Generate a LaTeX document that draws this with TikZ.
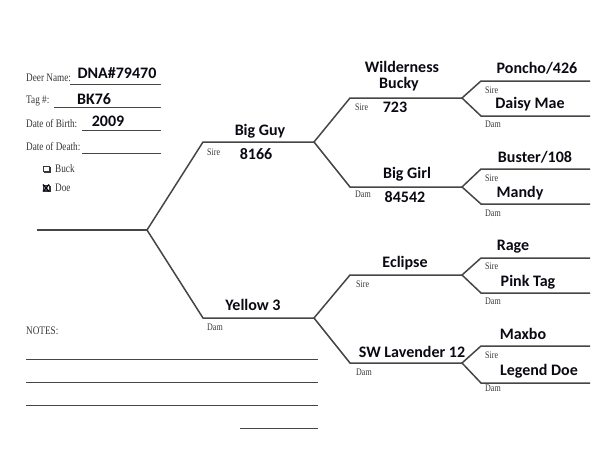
\documentclass[tikz,border=0pt]{standalone}
\usepackage{fontspec}
\newfontfamily\namefam{Carlito}
\newfontfamily\formfam[FakeStretch=0.8]{Liberation Serif}
\definecolor{linegray}{RGB}{70,70,70}
\definecolor{formgray}{RGB}{55,55,55}
\definecolor{inkblack}{RGB}{10,10,20}
\begin{document}
\begin{tikzpicture}[x=1pt,y=-1pt,
  ln/.style={draw=linegray, line width=1.5pt, line join=miter},
  ul/.style={draw=linegray, line width=0.9pt},
  cbox/.style={draw=formgray, line width=0.7pt, minimum size=5.5pt, inner sep=0pt,
    postaction={draw=formgray, line width=1.2pt, shorten <=0pt}},
  nm/.style={font=\namefam\bfseries\fontsize{16}{17}\selectfont, text=inkblack, inner sep=0pt},
  lab/.style={font=\formfam\fontsize{10}{11}\selectfont, text=formgray, inner sep=0pt, anchor=west},
  form/.style={font=\formfam\fontsize{11.5}{12}\selectfont, text=formgray, inner sep=0pt, anchor=west}]
\fill[white] (0,0) rectangle (600,453);
\useasboundingbox (0,0) rectangle (600,453);

% line coordinates
\coordinate (roots) at (37,230);   \coordinate (roote) at (147,230);
\coordinate (bgs) at (203,142);    \coordinate (bge) at (314,142);
\coordinate (yes) at (203,318);    \coordinate (yee) at (314,318);
\coordinate (wis) at (350,98);     \coordinate (wie) at (462,98);
\coordinate (gis) at (350,187);    \coordinate (gie) at (462,187);
\coordinate (ecs) at (350,275);    \coordinate (ece) at (462,275);
\coordinate (sws) at (350,363);    \coordinate (swe) at (462,363);
\coordinate (pos) at (481,81);     \coordinate (poe) at (590,81);
\coordinate (das) at (481,116);    \coordinate (dae) at (590,116);
\coordinate (bus) at (481,169);    \coordinate (bue) at (590,169);
\coordinate (mas) at (481,204);    \coordinate (mae) at (590,204);
\coordinate (ras) at (481,258);    \coordinate (rae) at (590,258);
\coordinate (pis) at (481,293);    \coordinate (pie) at (590,293);
\coordinate (mxs) at (481,346);    \coordinate (mxe) at (590,346);
\coordinate (les) at (481,383);    \coordinate (lee) at (590,383);

% tree
\draw[ln] (roots) -- (roote);
\draw[ln] (bge) -- (bgs) -- (roote) -- (yes) -- (yee);
\draw[ln] (wie) -- (wis) -- (bge) -- (gis) -- (gie);
\draw[ln] (ece) -- (ecs) -- (yee) -- (sws) -- (swe);
\draw[ln] (poe) -- (pos) -- (wie) -- (das) -- (dae);
\draw[ln] (bue) -- (bus) -- (gie) -- (mas) -- (mae);
\draw[ln] (rae) -- (ras) -- (ece) -- (pis) -- (pie);
\draw[ln] (mxe) -- (mxs) -- (swe) -- (les) -- (lee);

% names
\node[nm] (nbg) at (260,131) {Big Guy};
\node[nm] (nbgn) at (256,154) {8166};
\node[lab] (sbg) at (207,152) {Sire};
\node[nm] (nye) at (253,305) {Yellow 3};
\node[lab] (dye) at (207,327) {Dam};
\node[nm] (nwi1) at (402,67) {Wilderness};
\node[nm] (nwi2) at (399,84) {Bucky};
\node[nm] (nwin) at (395,107) {723};
\node[lab] (swi) at (355,107) {Sire};
\node[nm] (ngi) at (407,174) {Big Girl};
\node[nm] (ngin) at (405,197) {84542};
\node[lab] (dgi) at (355,194) {Dam};
\node[nm] (nec) at (405,263) {Eclipse};
\node[lab] (sec) at (356,284) {Sire};
\node[nm] (nsw) at (412,352) {SW Lavender 12};
\node[lab] (dsw) at (356,372) {Dam};
\node[nm] (npo) at (537,68) {Poncho/426};
\node[lab] (spo) at (485,90) {Sire};
\node[nm] (nda) at (530,104) {Daisy Mae};
\node[lab] (dda) at (485,124) {Dam};
\node[nm] (nbu) at (535,157) {Buster/108};
\node[lab] (sbu) at (485,178) {Sire};
\node[nm] (nma) at (520,193) {Mandy};
\node[lab] (dma) at (485,213) {Dam};
\node[nm] (nra) at (513,247) {Rage};
\node[lab] (sra) at (485,266) {Sire};
\node[nm] (npi) at (528,282) {Pink Tag};
\node[lab] (dpi) at (485,301) {Dam};
\node[nm] (nmx) at (523,334) {Maxbo};
\node[lab] (smx) at (485,355) {Sire};
\node[nm] (nle) at (539,371) {Legend Doe};
\node[lab] (dle) at (485,388) {Dam};

% form
\node[form] (fdn) at (26,78) {Deer Name:};
\draw[ul] (70,84) -- (161,84);
\node[nm] (vdn) at (117,73) {DNA\#79470};
\node[form] (ftag) at (26,101) {Tag \#:};
\draw[ul] (54,107) -- (161,107);
\node[nm] (vtag) at (94,99) {BK76};
\node[form] (fdob) at (26,124) {Date of Birth:};
\draw[ul] (82,130) -- (161,130);
\node[nm] (vdob) at (108,121) {2009};
\node[form] (fdod) at (26,147) {Date of Death:};
\draw[ul] (82,153) -- (161,153);
% check boxes
\draw[formgray, line width=0.7pt] (43.5,166) rectangle (49,171.5);
\draw[formgray, line width=1.3pt] (44,172) -- (50,172) -- (50,166.5);
\node[form] (fbuck) at (55,169) {Buck};
\draw[formgray, line width=0.7pt] (43.5,185) rectangle (49,190.5);
\draw[formgray, line width=1.3pt] (44,191) -- (50,191) -- (50,185.5);
\draw[inkblack, line width=1.4pt] (43,184.5) -- (49,191.5) (49,184.5) -- (43,191.5);
\node[form] (fdoe) at (55,188) {Doe};

% notes
\node[form] (fnotes) at (26,331) {NOTES:};
\draw[ul] (26,359) -- (318,359);
\draw[ul] (26,382) -- (318,382);
\draw[ul] (26,405) -- (318,405);
\draw[ul] (240,428) -- (318,428);
\end{tikzpicture}
\end{document}
